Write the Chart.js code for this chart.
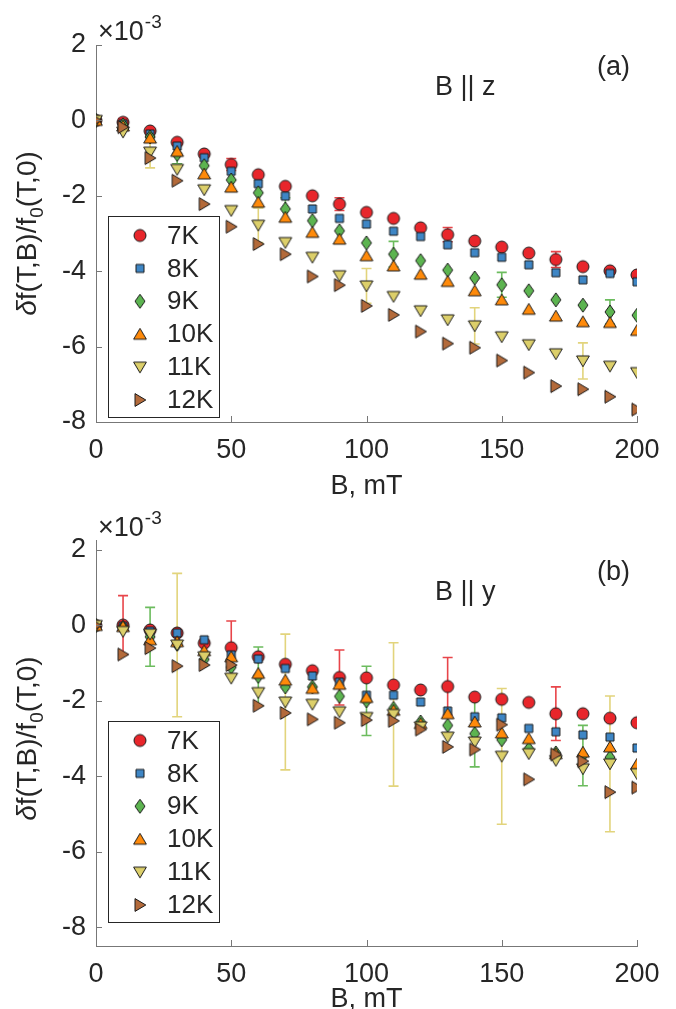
<!DOCTYPE html>
<html>
<head>
<meta charset="utf-8">
<script src="https://cdn.jsdelivr.net/npm/chart.js@4.4.1/dist/chart.umd.min.js"></script>
<style>
  body { margin: 0; background: #fff; overflow: hidden; }
  .panel { position: absolute; left: 0; width: 676px; }
</style>
</head>
<body>
<div class="panel" style="top:0;height:505px"><canvas id="chartA" width="676" height="505"></canvas></div>
<div class="panel" style="top:505px;height:530px"><canvas id="chartB" width="676" height="530"></canvas></div>
<script>
// field values, mT
const fieldB = [0, 10, 20, 30, 40, 50, 60, 70, 80, 90, 100, 110, 120, 130, 140, 150, 160, 170, 180, 190, 200];
const tempLabels = ["7K", "8K", "9K", "10K", "11K", "12K"];
const yTicks = [-8, -6, -4, -2, 0, 2];
const xTicks = [0, 50, 100, 150, 200];
const n = null;

// (a) B || z, values in units of 1e-3
const bz7K = [0, -0.05, -0.28, -0.58, -0.89, -1.17, -1.44, -1.75, -2.0, -2.22, -2.44, -2.6, -2.85, -3.03, -3.2, -3.36, -3.52, -3.69, -3.88, -3.99, -4.1];
const bz8K = [0, -0.09, -0.36, -0.68, -0.99, -1.35, -1.68, -2.01, -2.35, -2.6, -2.75, -2.94, -3.08, -3.3, -3.51, -3.63, -3.83, -4.04, -4.23, -4.06, -4.28];
const bz9K = [0, -0.12, -0.44, -0.9, -1.2, -1.58, -1.92, -2.35, -2.66, -2.93, -3.25, -3.55, -3.72, -3.97, -4.18, -4.36, -4.52, -4.76, -4.9, -5.08, -5.17];
const bz10K = [0, -0.15, -0.47, -0.82, -1.42, -1.77, -2.17, -2.57, -2.97, -3.15, -3.59, -3.86, -4.08, -4.27, -4.52, -4.76, -5.01, -5.19, -5.34, -5.36, -5.57];
const bz11K = [0, -0.31, -0.84, -1.3, -1.84, -2.39, -2.78, -3.24, -3.63, -4.12, -4.39, -4.67, -5.05, -5.29, -5.45, -5.74, -5.95, -6.19, -6.38, -6.52, -6.69];
const bz12K = [0, -0.18, -1.0, -1.6, -2.22, -2.82, -3.28, -3.55, -4.14, -4.37, -4.92, -5.16, -5.6, -5.92, -6.03, -6.37, -6.69, -7.05, -7.13, -7.33, -7.67];
const bz7Kerr = [n, 0.1, n, n, n, 0.16, n, n, n, 0.17, n, n, n, 0.19, n, n, n, 0.21, n, n, n];
const bz9Kerr = [n, n, n, 0.25, n, n, n, 0.3, n, n, n, 0.34, n, n, n, 0.33, n, n, n, 0.32, n];
const bz11Kerr = [n, n, 0.42, n, n, n, 0.46, n, n, n, 0.46, n, n, n, 0.48, n, n, n, 0.48, n, n];

// (b) B || y
const by7K = [0, 0.01, -0.12, -0.2, -0.47, -0.59, -0.83, -1.03, -1.2, -1.38, -1.39, -1.58, -1.71, -1.62, -1.9, -1.96, -2.04, -2.34, -2.34, -2.46, -2.58];
const by8K = [0, -0.02, -0.15, -0.2, -0.38, -0.78, -0.89, -1.14, -1.34, -1.5, -1.85, -1.85, -2.03, -2.27, -2.42, -2.45, -2.73, -2.82, -2.9, -2.96, -3.25];
const by9K = [0, -0.05, -0.3, -0.5, -0.9, -1.11, -1.35, -1.63, -1.63, -1.88, -2.0, -2.2, -2.56, -2.65, -2.87, -3.03, -3.27, -3.38, -3.45, -3.5, -3.77];
const by10K = [0, -0.03, -0.38, -0.43, -0.67, -0.83, -1.27, -1.45, -1.67, -1.56, -1.91, -2.25, -2.6, -2.34, -2.56, -2.85, -3.0, -3.4, -3.36, -3.22, -3.68];
const by11K = [0, -0.16, -0.23, -0.52, -0.83, -1.4, -1.78, -2.03, -2.09, -2.29, -2.44, -2.36, -2.69, -2.96, -3.09, -3.47, -3.4, -3.58, -3.8, -3.67, -3.93];
const by12K = [0, -0.77, -0.6, -1.08, -1.05, -1.05, -2.13, -2.32, -2.49, -2.58, -2.51, -2.53, -2.76, -3.22, -3.29, -2.63, -4.08, -3.42, -3.6, -4.42, -4.3];
const by7Kerr = [n, 0.78, n, n, n, 0.71, n, n, n, 0.73, n, n, n, 0.77, n, n, n, 0.71, n, n, n];
const by9Kerr = [n, n, 0.78, n, n, n, 0.78, n, n, n, 0.92, n, n, n, 0.88, n, n, n, 0.8, n, n];
const by11Kerr = [n, n, n, 1.9, n, n, n, 1.8, n, n, n, 1.9, n, n, n, 1.8, n, n, n, 1.8, n];

const FONT = '"Liberation Sans", Arial, Helvetica, sans-serif';
const TXT = "#262626";
Chart.defaults.font.family = FONT;
Chart.defaults.color = TXT;

// marker look per temperature
const fills = ["#e8262b", "#3e86c5", "#5cb450", "#ff8a0a", "#dccf6a", "#b36a3a"];
const errColors = ["#e8454a", "#5a96cf", "#6cbc5e", "#ff9a2a", "#e2d47c", "#c07a4a"];
const shapes = ["circle", "square", "diamond", "up", "down", "right"];

function makeMarker(shape, fill) {
  const c = document.createElement("canvas");
  c.width = 16; c.height = 16;
  const g = c.getContext("2d");
  g.fillStyle = fill;
  g.strokeStyle = "#1a1a1a";
  g.lineWidth = 1;
  g.beginPath();
  if (shape === "circle") g.arc(8, 8, 6, 0, 2 * Math.PI);
  else if (shape === "square") g.rect(4, 4, 8, 8);
  else if (shape === "diamond") { g.moveTo(8, 1); g.lineTo(13, 8); g.lineTo(8, 15); g.lineTo(3, 8); g.closePath(); }
  else if (shape === "up") { g.moveTo(8, 2.2); g.lineTo(14.4, 13); g.lineTo(1.6, 13); g.closePath(); }
  else if (shape === "down") { g.moveTo(1.6, 3); g.lineTo(14.4, 3); g.lineTo(8, 13.8); g.closePath(); }
  else if (shape === "right") { g.moveTo(3, 1.6); g.lineTo(13.8, 8); g.lineTo(3, 14.4); g.closePath(); }
  g.fill();
  g.stroke();
  return c;
}
const markers = shapes.map((s, i) => makeMarker(s, fills[i]));

function buildDatasets(series, errs) {
  return series.map((vals, i) => ({
    label: tempLabels[i],
    data: fieldB.map((b, k) => ({ x: b, y: vals[k] })),
    errors: errs[i],
    pointStyle: markers[i],
    pointRadius: 7,
    showLine: false,
    order: series.length - 1 - i
  }));
}

// vertical error bars, drawn under the markers
const errorBars = {
  id: "errorBars",
  beforeDatasetsDraw(chart) {
    const ctx = chart.ctx, xs = chart.scales.x, ys = chart.scales.y;
    chart.data.datasets.forEach((ds, i) => {
      if (!ds.errors) return;
      ctx.save();
      ctx.strokeStyle = errColors[i];
      ctx.lineWidth = 1.6;
      ds.data.forEach((p, k) => {
        const e = ds.errors[k];
        if (e == null) return;
        const px = xs.getPixelForValue(p.x);
        const y1 = ys.getPixelForValue(p.y + e), y2 = ys.getPixelForValue(p.y - e);
        ctx.beginPath();
        ctx.moveTo(px, y1); ctx.lineTo(px, y2);
        ctx.moveTo(px - 5, y1); ctx.lineTo(px + 5, y1);
        ctx.moveTo(px - 5, y2); ctx.lineTo(px + 5, y2);
        ctx.stroke();
      });
      ctx.restore();
    });
  }
};

// inward ticks, exponent, y title, panel texts, legend box
const decorations = {
  id: "decorations",
  afterDraw(chart, args, opts) {
    const ctx = chart.ctx, xs = chart.scales.x, ys = chart.scales.y, area = chart.chartArea;
    ctx.save();
    ctx.strokeStyle = "#777";
    ctx.lineWidth = 1;
    ctx.beginPath();
    yTicks.forEach(v => {
      const py = Math.round(ys.getPixelForValue(v)) + 0.5;
      ctx.moveTo(area.left, py); ctx.lineTo(area.left + 6, py);
    });
    xTicks.forEach(v => {
      const px = Math.round(xs.getPixelForValue(v)) + 0.5;
      ctx.moveTo(px, area.bottom); ctx.lineTo(px, area.bottom - 6);
    });
    ctx.stroke();

    ctx.fillStyle = TXT;
    ctx.textBaseline = "alphabetic";
    ctx.textAlign = "left";
    // x10^-3 above the axis top
    ctx.font = "27px " + FONT;
    ctx.fillText("\u00d710", area.left + 2, area.top - 5);
    const w10 = ctx.measureText("\u00d710").width;
    ctx.font = "19px " + FONT;
    ctx.fillText("-3", area.left + 3 + w10, area.top - 17);

    // panel texts
    ctx.font = "27px " + FONT;
    ctx.fillText(opts.field, 435, 95);
    ctx.fillText(opts.tag, 597, 75);

    // y axis title
    const parts = [
      ["\u03b4", "italic 28px " + FONT, 0],
      ["f(T,B)/f", "28px " + FONT, 0],
      ["0", "19px " + FONT, 7],
      ["(T,0)", "28px " + FONT, 0]
    ];
    let total = 0;
    parts.forEach(p => { ctx.font = p[1]; total += ctx.measureText(p[0]).width; });
    ctx.translate(36, ys.getPixelForValue(-3));
    ctx.rotate(-Math.PI / 2);
    let cx = -total / 2;
    parts.forEach(p => {
      ctx.font = p[1];
      ctx.fillText(p[0], cx, p[2]);
      cx += ctx.measureText(p[0]).width;
    });
    ctx.setTransform(1, 0, 0, 1, 0, 0);

    // legend
    const lx = 108.5, ly = 216.5, lw = 111, lh = 201;
    ctx.fillStyle = "#fff";
    ctx.fillRect(lx, ly, lw, lh);
    ctx.strokeStyle = "#262626";
    ctx.strokeRect(lx, ly, lw, lh);
    ctx.font = "26px " + FONT;
    ctx.textBaseline = "middle";
    tempLabels.forEach((lab, i) => {
      const ry = 235.5 + i * 32.9;
      ctx.drawImage(markers[i], 140 - 8, ry - 8);
      ctx.fillStyle = TXT;
      ctx.fillText(lab, 167, ry + 1);
    });
    ctx.restore();
  }
};

function makeChart(id, series, errs, field, tag, lim) {
  return new Chart(document.getElementById(id), {
    type: "scatter",
    data: { datasets: buildDatasets(series, errs) },
    options: {
      responsive: false,
      animation: false,
      devicePixelRatio: 1,
      layout: { padding: { left: 0, right: 39, top: lim.top, bottom: 0 } },
      scales: {
        x: {
          type: "linear", min: 0, max: 200,
          grid: { display: false, drawTicks: false },
          border: { display: true, color: "#777", width: 1 },
          ticks: { stepSize: 50, font: { size: 27 }, color: TXT, padding: 12, maxRotation: 0 },
          title: { display: true, text: "B, mT", font: { size: 27 }, color: TXT, padding: { top: 0, bottom: lim.titleBottom } },
          afterFit(scale) { scale.height = lim.axisHeight; }
        },
        y: {
          type: "linear", min: lim.ymin, max: lim.ymax,
          grid: { display: false, drawTicks: false },
          border: { display: true, color: "#777", width: 1 },
          ticks: { font: { size: 27 }, color: TXT, padding: 10 },
          afterBuildTicks(scale) { scale.ticks = yTicks.map(v => ({ value: v })); },
          afterFit(scale) { scale.width = 96; }
        }
      },
      plugins: {
        legend: { display: false },
        tooltip: { enabled: false },
        decorations: { field: field, tag: tag }
      }
    },
    plugins: [errorBars, decorations]
  });
}

makeChart("chartA", [bz7K, bz8K, bz9K, bz10K, bz11K, bz12K],
  [bz7Kerr, n, bz9Kerr, n, bz11Kerr, n], "B || z", "(a)",
  { ymin: -8, ymax: 2, top: 45, axisHeight: 83, titleBottom: 2 });
makeChart("chartB", [by7K, by8K, by9K, by10K, by11K, by12K],
  [by7Kerr, n, by9Kerr, n, by11Kerr, n], "B || y", "(b)",
  { ymin: -8.5, ymax: 2.25, top: 35.6, axisHeight: 89, titleBottom: 19 });
</script>
</body>
</html>
